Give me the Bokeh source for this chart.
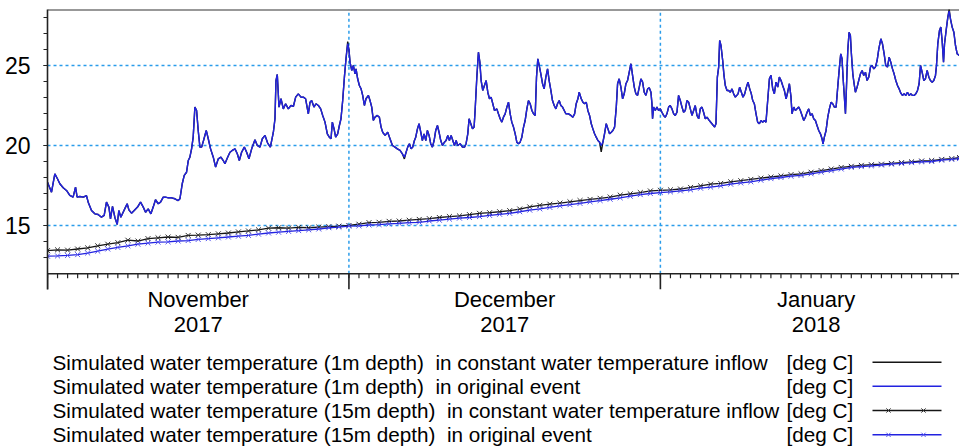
from datetime import datetime, timedelta

from bokeh.core.properties import value
from bokeh.embed import file_html
from bokeh.layouts import column
from bokeh.models import DatetimeTickFormatter, FixedTicker, Range1d, Span
from bokeh.plotting import figure
from bokeh.resources import INLINE

# ---------------------------------------------------------------------------
# Data: simulated water temperature [deg C], time in days after 2017-11-01
# ---------------------------------------------------------------------------
origin = datetime(2017, 11, 1)
last_day = 90.77

days_1m = [
    0.00, 0.40, 0.73, 0.99, 1.23, 1.56, 1.89, 2.22, 2.55, 2.79, 2.95, 3.22, 3.55, 3.88, 4.05, 4.38,
    4.71, 5.04, 5.37, 5.64, 5.87, 6.11, 6.27, 6.47, 6.70, 6.94, 7.10, 7.30, 7.53, 7.77, 7.93, 8.10,
    8.36, 8.63, 8.96, 9.26, 9.53, 9.76, 10.02, 10.29, 10.52, 10.75, 11.02, 11.25, 11.52, 11.75, 12.02,
    12.35, 12.68, 13.01, 13.18, 13.41, 13.61, 13.84, 14.01, 14.17, 14.34, 14.50, 14.67, 14.84, 15.00,
    15.17, 15.34, 15.53, 15.80, 16.00, 16.23, 16.50, 16.73, 17.00, 17.26, 17.49, 17.66, 17.93, 18.16,
    18.39, 18.66, 18.89, 19.09, 19.32, 19.59, 19.82, 20.05, 20.32, 20.65, 20.88, 21.15, 21.38, 21.65,
    21.91, 22.18, 22.48, 22.64, 22.74, 22.87,
    23.04, 23.24, 23.47, 23.70, 23.97, 24.23, 24.47, 24.70, 24.96, 25.23, 25.46, 25.69, 25.96, 26.13,
    26.29, 26.52, 26.72, 26.96, 27.19, 27.39, 27.62, 27.85, 28.05, 28.22, 28.35, 28.52, 28.68, 28.88,
    29.05, 29.21, 29.38, 29.55, 29.71, 29.88, 30.01, 30.11, 30.28, 30.44, 30.61, 30.71, 30.87, 31.04,
    31.21, 31.37, 31.54, 31.70, 31.94, 32.10, 32.27, 32.43, 32.60, 32.83, 33.03, 33.20, 33.36, 33.60,
    33.86, 34.09, 34.33, 34.59, 34.82, 35.09, 35.32, 35.52, 35.69, 35.85, 36.02, 36.19, 36.35, 36.52,
    36.65, 36.82, 36.98, 37.15, 37.31, 37.48, 37.65, 37.81, 37.98, 38.14, 38.31, 38.48, 38.64, 38.81,
    38.97, 39.14, 39.31, 39.51, 39.67, 39.84, 40.00, 40.17, 40.34, 40.50, 40.67, 40.83, 41.07, 41.30,
    41.50, 41.66, 41.83, 41.96, 42.13, 42.30, 42.46, 42.56, 42.73, 42.89, 43.03, 43.16, 43.32, 43.49,
    43.66, 43.82, 43.99, 44.15, 44.32, 44.49, 44.72, 44.88, 45.05, 45.22, 45.38, 45.55,
    45.72, 45.88, 46.05, 46.21, 46.38, 46.55, 46.71, 46.88, 47.04, 47.21, 47.38, 47.54, 47.71, 47.87,
    48.04, 48.21, 48.37, 48.54, 48.67, 48.80, 48.97, 49.10, 49.27, 49.43, 49.60, 49.77, 49.93, 50.10,
    50.26, 50.43, 50.60, 50.76, 50.93, 51.09, 51.26, 51.43, 51.59, 51.86, 52.09, 52.29, 52.46, 52.62,
    52.79, 52.92, 53.12, 53.29, 53.45, 53.62, 53.78, 53.95, 54.12, 54.28, 54.45, 54.61, 54.78, 54.95,
    55.11, 55.28, 55.44, 55.61, 55.78, 55.94, 56.11, 56.27, 56.44, 56.61, 56.74, 56.90, 57.07, 57.24,
    57.40, 57.57, 57.73, 57.90, 58.07, 58.23, 58.40, 58.56, 58.73, 58.90, 59.06, 59.23, 59.39, 59.56,
    59.73, 59.89, 60.06, 60.16, 60.22, 60.32, 60.49, 60.66, 60.82, 60.99, 61.15, 61.32, 61.49, 61.65,
    61.82, 61.98, 62.15, 62.32, 62.48, 62.65, 62.81, 62.98, 63.15, 63.31, 63.48, 63.64, 63.81, 63.98,
    64.14, 64.31, 64.47, 64.64, 64.81, 64.97, 65.14, 65.30, 65.47, 65.64, 65.87, 66.13, 66.40, 66.53,
    66.67, 66.80, 66.90, 67.03, 67.20, 67.33, 67.46, 67.63, 67.79, 67.96, 68.13, 68.29, 68.46,
    68.73, 68.89, 69.06, 69.22, 69.39, 69.56, 69.72, 69.89, 70.05, 70.19, 70.35, 70.52, 70.68, 70.85,
    71.02, 71.18, 71.35, 71.51, 71.68, 71.85, 72.01, 72.18, 72.34, 72.51, 72.68, 72.84, 73.01, 73.17,
    73.34, 73.51, 73.67, 73.84, 74.00, 74.10, 74.27, 74.44, 74.60, 74.77, 74.93, 75.10, 75.27, 75.43,
    75.60, 75.76, 75.93, 76.10, 76.26, 76.43, 76.59, 76.76, 76.93, 77.09, 77.19, 77.32, 77.49, 77.66,
    77.82, 77.99, 78.15, 78.32, 78.49, 78.65, 78.82, 78.95, 79.08, 79.18, 79.28, 79.42, 79.52, 79.65,
    79.78, 79.91, 80.01, 80.15, 80.28, 80.41, 80.58, 80.74, 80.91, 81.08, 81.24, 81.41, 81.57, 81.74,
    81.91, 82.07, 82.24, 82.40, 82.57, 82.74, 82.94, 83.10, 83.27, 83.43, 83.60, 83.77, 83.93, 84.10,
    84.26, 84.43, 84.60, 84.76, 84.93, 85.09, 85.26, 85.43, 85.59, 85.76, 85.92, 86.09, 86.26, 86.42,
    86.59, 86.75, 86.89, 87.05, 87.22, 87.38, 87.55, 87.72, 87.88, 88.05, 88.21, 88.38, 88.48, 88.61,
    88.78, 88.91, 89.04, 89.18, 89.28, 89.44, 89.61, 89.74, 89.87, 90.04, 90.21, 90.37, 90.54, 90.77,
]

temp_1m_orig = [
    17.73, 17.10, 18.25, 17.94, 17.63, 17.38, 17.21, 16.90, 16.79, 17.42, 16.79, 16.83, 16.79, 16.88, 16.48, 15.96,
    15.75, 15.71, 15.54, 15.65, 16.48, 16.17, 15.44, 16.21, 15.54, 15.08, 15.96, 15.54, 15.85, 16.17, 16.38, 16.00,
    15.79, 15.96, 16.17, 16.48, 16.17, 15.85, 16.06, 15.75, 16.17, 16.63, 16.38, 16.48, 16.79, 16.79, 16.75,
    16.75, 16.69, 16.58, 16.69, 17.63, 18.15, 18.35, 19.08, 19.29, 19.81, 20.54, 22.42, 22.21, 20.96,
    19.92, 19.92, 20.33, 20.96, 20.44, 19.81, 19.29, 18.67, 19.19, 19.29, 19.08, 18.88, 19.29, 19.60,
    19.71, 19.81, 19.50, 19.08, 19.60, 19.92, 19.60, 19.19, 19.81, 20.38, 20.02, 19.92, 20.44, 20.65,
    20.17, 19.92, 20.85, 21.69, 24.08, 24.46,
    22.42, 22.94, 22.31, 22.63, 22.31, 22.52, 22.46, 23.04, 23.25, 23.04, 23.04, 22.94, 22.00, 22.73,
    22.83, 22.42, 22.63, 22.52, 22.31, 21.90, 21.48, 20.75, 20.54, 20.44, 21.48, 21.06, 20.54, 20.75,
    21.27, 21.69, 22.83, 24.29, 25.44, 26.38, 25.96, 25.23, 24.71, 25.02, 24.50, 24.81, 24.19, 23.77,
    23.56, 23.15, 22.52, 22.94, 23.15, 22.83, 22.42, 21.58, 21.79, 21.90, 21.79, 21.17, 20.85, 20.65,
    20.85, 20.44, 20.02, 19.92, 19.81, 19.71, 19.50, 19.29, 19.60, 19.92, 20.13, 19.81, 19.92, 20.33,
    20.54, 21.06, 21.38, 20.85, 20.33, 20.75, 20.33, 20.96, 20.65, 20.13, 19.92, 20.33, 20.96, 21.27,
    20.85, 20.33, 20.02, 20.23, 20.33, 20.65, 20.33, 20.65, 20.33, 20.02, 20.33, 20.02, 20.13, 19.92,
    19.92, 20.13, 20.75, 21.69, 21.38, 21.06, 21.17, 22.21, 24.29, 25.85, 25.23, 24.08, 23.46, 23.77,
    24.08, 23.35, 22.94, 23.04, 22.63, 22.21, 22.31, 22.00, 21.69, 21.48, 21.79, 22.00,
    22.42, 22.73, 22.00, 21.48, 21.17, 20.75, 20.23, 20.13, 20.23, 20.54, 21.17, 21.58, 22.31, 22.83,
    22.63, 22.21, 22.00, 21.90, 24.29, 25.44, 24.92, 24.50, 23.88, 23.56, 24.29, 24.81, 24.08, 23.46,
    22.83, 22.52, 22.31, 22.63, 22.83, 22.52, 22.42, 22.21, 22.00, 22.00, 21.90, 21.79, 22.00, 22.63,
    22.94, 23.35, 22.94, 22.73, 22.63, 22.73, 22.21, 21.90, 21.38, 21.06, 20.75, 20.54, 20.33, 20.23,
    20.02, 20.23, 20.75, 21.38, 21.06, 20.75, 20.85, 20.96, 21.17, 22.42, 23.88, 24.19, 23.67, 22.94,
    23.25, 23.88, 24.08, 24.60, 25.13, 24.40, 23.67, 23.25, 23.15, 23.67, 24.19, 23.98, 23.35, 23.15,
    23.56, 23.63, 23.35, 22.63, 21.69, 22.42, 22.21, 22.42, 22.21, 22.31, 22.10, 21.90, 21.79, 22.00,
    22.42, 22.52, 22.31, 22.00, 21.90, 22.10, 23.15, 22.83, 22.42, 22.10, 22.21, 22.83, 22.73, 22.31,
    21.90, 22.21, 22.52, 21.90, 21.69, 22.31, 22.42, 22.10, 21.69, 21.79, 21.58, 21.38, 21.17, 21.38,
    24.29, 24.92, 26.58, 26.27, 25.33, 24.40, 23.77, 23.46, 23.46, 23.35, 23.56, 23.25, 23.04,
    23.25, 23.67, 23.35, 23.04, 23.25, 23.67, 23.98, 23.56, 23.25, 22.83, 22.63, 22.00, 21.48, 21.38,
    21.58, 21.48, 21.58, 21.48, 22.83, 24.19, 24.40, 23.56, 23.25, 23.98, 23.67, 24.29, 24.08, 23.77,
    23.46, 22.94, 23.35, 23.88, 23.04, 22.00, 22.42, 22.21, 22.31, 22.42, 22.21, 21.90, 21.58, 21.79,
    22.10, 22.31, 21.90, 22.00, 21.69, 21.58, 21.27, 20.96, 20.75, 20.44, 20.13, 20.54, 20.96, 21.79,
    22.31, 22.73, 22.63, 22.42, 22.42, 23.67, 24.92, 25.75, 25.44, 24.29, 23.35, 22.00, 23.67, 25.96,
    27.10, 26.90, 25.75, 24.50, 23.88, 23.35, 23.67, 24.08, 24.50, 24.71, 24.40, 24.60, 24.08, 24.29,
    24.92, 25.02, 24.81, 24.92, 25.33, 26.06, 26.69, 26.38, 25.75, 25.02, 24.92, 25.54, 25.23, 24.81,
    24.50, 24.08, 23.77, 23.56, 23.29, 23.15, 23.25, 23.15, 23.35, 23.15, 23.25, 23.15, 23.15, 23.25,
    23.46, 23.88, 25.02, 24.60, 24.08, 24.19, 24.71, 24.29, 24.08, 23.98, 24.08, 24.40, 25.02, 26.38,
    27.21, 27.42, 26.58, 25.23, 26.38, 27.21, 28.04, 28.42, 27.94, 27.42, 27.10, 26.27, 25.75, 25.65,
]

# At 1 m the constant-inflow run lies on top of the original run except here
const_1m_departures = {29.88: 26.52, 35.52: 19.18, 55.11: 19.62, 89.74: 28.55}
temp_1m_const = [const_1m_departures.get(d, t) for d, t in zip(days_1m, temp_1m_orig)]

days_15m = list(range(0, 91)) + [90.77]

temp_15m_const = [
    13.45, 13.50, 13.48, 13.55, 13.62, 13.75, 13.85, 13.95, 14.10, 14.05,
    14.20, 14.25, 14.30, 14.28, 14.40, 14.42, 14.45, 14.50, 14.55, 14.62,
    14.68, 14.75, 14.85, 14.88, 14.86, 14.90, 14.88, 14.92, 14.95, 14.98,
    15.02, 15.10, 15.20, 15.22, 15.28, 15.30, 15.35, 15.40, 15.45, 15.52,
    15.58, 15.62, 15.70, 15.78, 15.82, 15.88, 15.95, 16.05, 16.18, 16.28,
    16.35, 16.42, 16.50, 16.58, 16.65, 16.72, 16.80, 16.92, 17.00, 17.08,
    17.18, 17.22, 17.25, 17.30, 17.40, 17.50, 17.60, 17.65, 17.75, 17.82,
    17.90, 17.98, 18.05, 18.12, 18.20, 18.25, 18.35, 18.45, 18.55, 18.65,
    18.72, 18.78, 18.82, 18.85, 18.90, 18.95, 19.00, 19.05, 19.08, 19.15,
    19.20, 19.27,
]

temp_15m_orig = [
    13.10, 13.12, 13.15, 13.20, 13.30, 13.42, 13.55, 13.65, 13.75, 13.85,
    13.92, 13.98, 14.00, 14.05, 14.08, 14.15, 14.20, 14.25, 14.30, 14.35,
    14.40, 14.48, 14.55, 14.60, 14.65, 14.70, 14.75, 14.80, 14.88, 14.92,
    14.98, 15.00, 15.05, 15.08, 15.12, 15.15, 15.20, 15.22, 15.30, 15.35,
    15.42, 15.48, 15.52, 15.58, 15.65, 15.72, 15.78, 15.88, 15.98, 16.06,
    16.15, 16.25, 16.32, 16.40, 16.50, 16.58, 16.66, 16.75, 16.85, 16.95,
    17.02, 17.08, 17.12, 17.18, 17.25, 17.35, 17.42, 17.50, 17.60, 17.68,
    17.75, 17.85, 17.95, 18.02, 18.10, 18.15, 18.25, 18.35, 18.45, 18.55,
    18.65, 18.70, 18.75, 18.80, 18.85, 18.90, 18.95, 19.00, 19.02, 19.10,
    19.15, 19.20,
]

y_major_ticks = [15, 20, 25]
y_minor_ticks = list(range(13, 29))
month_starts = [datetime(2017, 11, 1), datetime(2017, 12, 1), datetime(2018, 1, 1), datetime(2018, 2, 1)]

# a no-break space keeps the double gap after "depth)" in the rendered text
GAP = "\u00a0 "
legend_texts = [
    "Simulated water temperature (1m depth)" + GAP + "in constant water temperature inflow",
    "Simulated water temperature (1m depth)" + GAP + "in original event",
    "Simulated water temperature (15m depth)" + GAP + "in constant water temperature inflow",
    "Simulated water temperature (15m depth)" + GAP + "in original event",
]
legend_unit = "[deg C]"

# ---------------------------------------------------------------------------
# Styling
# ---------------------------------------------------------------------------
FONT = "Liberation Sans"
BLACK = "#151515"
BLUE = "#2222e0"
BLUE_MARK = "#5555f0"
GRID = "#2a9cea"
Y_FLOOR = 12.0          # level of the time axis line
Y_TOP = 28.52
LEFT = 47               # width of the left border (y axis area)


def to_dates(days):
    return [origin + timedelta(days=d) for d in days]


def to_ms(dt):
    return (dt - datetime(1970, 1, 1)).total_seconds() * 1000.0


t_1m = to_dates(days_1m)
t_15m = to_dates(days_15m)
t_end = origin + timedelta(days=last_day)

CHART_H = 349
p = figure(
    width=959, height=CHART_H,
    x_axis_type="datetime",
    x_range=Range1d(origin, t_end),
    y_range=Range1d(11.02, Y_TOP),
    output_backend="svg", toolbar_location=None,
    min_border_left=LEFT, min_border_right=0, min_border_top=9, min_border_bottom=60,
    outline_line_color=None,
    background_fill_color="white", border_fill_color="white",
)

# y axis: labels every 5 deg C, small ticks every degree
yax = p.yaxis[0]
yax.ticker = FixedTicker(ticks=y_major_ticks, minor_ticks=y_minor_ticks)
yax.major_tick_in = 0
yax.major_tick_out = 4
yax.minor_tick_in = 0
yax.minor_tick_out = 4
yax.axis_line_color = "#222222"
yax.axis_line_width = 1.6
yax.major_tick_line_color = "#222222"
yax.minor_tick_line_color = "#222222"
yax.major_label_standoff = 13
yax.major_label_text_font = FONT
yax.major_label_text_font_size = "23px"
yax.major_label_text_color = "black"

# x axis: month names centred in each month
label_dates = []
for a, b in zip(month_starts[:-1], month_starts[1:]):
    label_dates.append(a + (b - a) / 2)
xax = p.xaxis[0]
xax.ticker = FixedTicker(ticks=[to_ms(d) for d in label_dates], minor_ticks=[])
month_fmt = "%B\n%Y"
xax.formatter = DatetimeTickFormatter(
    microseconds=month_fmt, milliseconds=month_fmt, seconds=month_fmt, minsec=month_fmt,
    minutes=month_fmt, hourmin=month_fmt, hours=month_fmt, days=month_fmt,
    months=month_fmt, years=month_fmt,
)
xax.axis_line_color = None
xax.major_tick_line_color = None
xax.minor_tick_line_color = None
xax.major_label_standoff = -9
xax.major_label_text_font = FONT
xax.major_label_text_font_size = "22px"
xax.major_label_text_line_height = 1.0
xax.major_label_text_color = "black"

# grid: dashed horizontals at labelled levels, dotted verticals at month starts
p.xgrid.visible = False
p.ygrid.ticker = FixedTicker(ticks=y_major_ticks)
p.ygrid.grid_line_color = GRID
p.ygrid.grid_line_dash = "3 3"
p.ygrid.grid_line_width = 1.5

inner_months = [m for m in month_starts[1:] if m < t_end]
p.segment(x0=inner_months, y0=[Y_FLOOR] * len(inner_months),
          x1=inner_months, y1=[Y_TOP] * len(inner_months),
          line_color=GRID, line_dash="3 3", line_width=1.5)

# frame top and time axis line
p.add_layout(Span(location=Y_TOP, dimension="width", line_color="#333333", line_width=2))
p.add_layout(Span(location=Y_FLOOR, dimension="width", line_color="#222222", line_width=1.6))

# daily ticks and longer month ticks under the time axis
day_ticks = [origin + timedelta(days=k) for k in range(0, int(last_day) + 1)]
p.segment(x0=day_ticks, y0=[Y_FLOOR] * len(day_ticks),
          x1=day_ticks, y1=[Y_FLOOR - 0.28] * len(day_ticks),
          line_color="#222222", line_width=1.2)
month_ticks = [m for m in month_starts if m <= t_end]
p.segment(x0=month_ticks, y0=[Y_FLOOR] * len(month_ticks),
          x1=month_ticks, y1=[11.02] * len(month_ticks),
          line_color="#222222", line_width=1.6)

# series
p.line(t_15m, temp_15m_const, line_color=BLACK, line_width=1.3)
p.scatter(t_15m, temp_15m_const, marker="x", size=7, line_color="#333333", line_width=1)
p.line(t_15m, temp_15m_orig, line_color=BLUE, line_width=1.3)
p.scatter(t_15m, temp_15m_orig, marker="x", size=7, line_color=BLUE_MARK, line_width=1)
p.line(t_1m, temp_1m_const, line_color=BLACK, line_width=1.4)
p.line(t_1m, temp_1m_orig, line_color=BLUE, line_width=1.4)

# ---------------------------------------------------------------------------
# Legend panel below the chart (its frame lines up with the chart frame,
# so the x range starts at the left border width to keep 1 unit = 1 px)
# ---------------------------------------------------------------------------
LEG_H = 448 - CHART_H
lg = figure(
    width=959, height=LEG_H,
    x_range=Range1d(LEFT, 959), y_range=Range1d(LEG_H, 0),
    x_axis_type=None, y_axis_type=None,
    output_backend="svg", toolbar_location=None,
    min_border=0, min_border_left=LEFT, min_border_right=0,
    outline_line_color=None,
    background_fill_color="white", border_fill_color="white",
)

row_y = [361.7 - CHART_H, 385.7 - CHART_H, 410.0 - CHART_H, 434.3 - CHART_H]

lg.text(x=[52] * 4, y=row_y, text=legend_texts,
        text_font=value(FONT), text_font_size="20.7px", text_color="black",
        text_baseline="middle", text_align="left")
lg.text(x=[786] * 4, y=row_y, text=[legend_unit] * 4,
        text_font=value(FONT), text_font_size="20.7px", text_color="black",
        text_baseline="middle", text_align="left")

sample_colors = [BLACK, BLUE, BLACK, BLUE]
mark_colors = [None, None, "#333333", BLUE_MARK]
for yy, lc, mc in zip(row_y, sample_colors, mark_colors):
    lg.line([872, 941], [yy, yy], line_color=lc, line_width=1.4)
    if mc is not None:
        lg.scatter([888, 923], [yy, yy], marker="x", size=6, line_color=mc, line_width=1)

layout = column(p, lg, spacing=0)
open("out.html", "w").write(file_html(layout, INLINE))
